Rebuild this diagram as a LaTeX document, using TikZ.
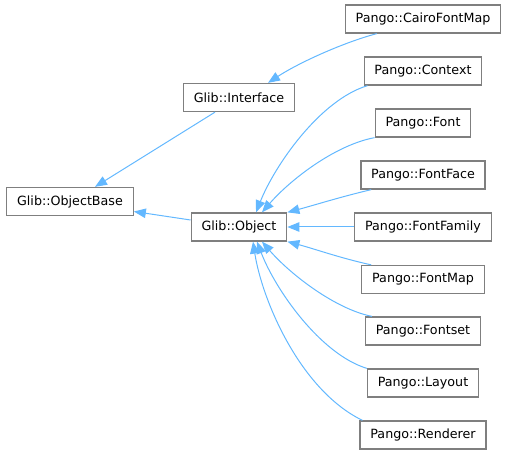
\documentclass[tikz,border=0pt]{standalone}
\usepackage{fontspec}
\setmainfont{DejaVu Sans}
\usetikzlibrary{arrows.meta}
\definecolor{edgeblue}{HTML}{63B8FF}
\definecolor{boxgray}{HTML}{7F7F7F}
\begin{document}
\begin{tikzpicture}[x=1pt, y=-1pt, >={Triangle[length=12pt,width=9.5pt]},
    cls/.style={draw=boxgray, line width=1.3pt, fill=white, minimum height=28pt,
      inner xsep=10.3pt, font=\fontsize{12.7}{15}\selectfont},
    inh/.style={draw=edgeblue, line width=1pt, ->}]
  \useasboundingbox (0,0) rectangle (508,454);
  \node[cls] (obase) at (70,201.5) {Glib::ObjectBase};
  \node[cls] (iface) at (239,97.5) {Glib::Interface};
  \node[cls] (obj) at (239,227) {Glib::Object};
  \foreach \n/\t/\y in {cairo/CairoFontMap/19, ctx/Context/71, font/Font/123,
      fface/FontFace/175, ffam/FontFamily/227, fmap/FontMap/279.5,
      fset/Fontset/331, layout/Layout/383, rend/Renderer/435}{
    \node[cls] (\n) at (423,\y) {Pango::\t};
  }
  \draw[inh] ([xshift=-24pt]iface.south) -- ([xshift=25pt]obase.north);
  \draw[inh] ([yshift=7pt]obj.west) -- ([yshift=-10pt]obase.east);
  \draw[inh] ([xshift=32pt]cairo.south west) .. controls (345,42) and (300,62) .. ([xshift=29pt]iface.north);
  \draw[inh] ([xshift=4pt]ctx.south west) .. controls (320,100) and (275,165) .. ([xshift=17pt]obj.north);
  \draw[inh] (font.south west) .. controls (335,145) and (290,180) .. ([xshift=23pt]obj.north);
  \draw[inh] ([xshift=11pt]fface.south west) .. controls (340,197) and (315,205) .. (obj.north east);
  \draw[inh] (ffam.west) -- (obj.east);
  \draw[inh] ([xshift=10pt]fmap.north west) .. controls (340,258) and (315,249) .. (obj.south east);
  \draw[inh] ([xshift=7pt]fset.north west) .. controls (335,309) and (290,274) .. ([xshift=23pt]obj.south);
  \draw[inh] (layout.north west) .. controls (320,354) and (275,289) .. ([xshift=18pt]obj.south);
  \draw[inh] ([xshift=3pt]rend.north west) .. controls (300,390) and (262,300) .. ([xshift=14pt]obj.south);
\end{tikzpicture}
\end{document}
